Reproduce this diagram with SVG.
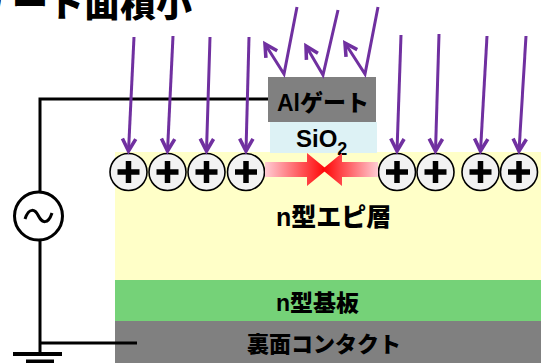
<svg xmlns="http://www.w3.org/2000/svg" width="541" height="363" viewBox="0 0 541 363">
  <style>
    .lbl { font-family: "Liberation Sans", "Noto Sans CJK JP", sans-serif; font-weight: bold; fill: #000; }
    .heavy { font-weight: 900; }
    .wire { stroke: #000; stroke-width: 3; fill: none; }
    .ray { stroke: #7030A0; stroke-width: 3; fill: none; marker-end: url(#head); }
    .ion circle { fill: #F2F2F2; stroke: #000; stroke-width: 1.6; }
    .ion path { stroke: #000; stroke-width: 5.5; fill: none; }
  </style>
  <defs>
    <marker id="head" markerUnits="userSpaceOnUse" markerWidth="20" markerHeight="20" viewBox="-14 -8 18 16" refX="0" refY="0" orient="auto">
      <path d="M-11,-6 L0,0 L-11,6" stroke="#7030A0" stroke-width="3.2" fill="none" stroke-linejoin="miter"/>
    </marker>
    <linearGradient id="fadeR" x1="0" y1="0" x2="1" y2="0">
      <stop offset="0" stop-color="#FFCCD4"/>
      <stop offset="1" stop-color="#FF0000"/>
    </linearGradient>
    <linearGradient id="fadeL" x1="1" y1="0" x2="0" y2="0">
      <stop offset="0" stop-color="#FFCCD4"/>
      <stop offset="1" stop-color="#FF0000"/>
    </linearGradient>
    <g id="plus" class="ion">
      <circle r="18.5"/>
      <path d="M-11,0 H11 M0,-11 V11"/>
    </g>
  </defs>

  <!-- heading (runs off the top-left edge) -->
  <text class="lbl heavy" x="192" y="17" font-size="36" text-anchor="end" font-family="Noto Sans CJK JP, sans-serif">ゲート面積小</text>

  <!-- semiconductor layers -->
  <g id="epi">
    <rect x="115" y="152" width="426" height="128" fill="#FFFFC8"/>
    <text class="lbl heavy" x="276" y="226" font-size="25">n型エピ層</text>
  </g>
  <g id="substrate">
    <rect x="115" y="280" width="426" height="41" fill="#75D278"/>
    <text class="lbl heavy" x="276" y="311" font-size="23">n型基板</text>
  </g>
  <g id="backContact">
    <rect x="115" y="321" width="426" height="42" fill="#808080"/>
    <text class="lbl heavy" x="247" y="352" font-size="22">裏面コンタクト</text>
  </g>

  <!-- gate stack -->
  <g id="oxide">
    <rect x="270" y="122" width="107" height="31" fill="#DDF2F5"/>
    <text class="lbl" x="296" y="147" font-size="24">SiO<tspan font-size="18" dy="8">2</tspan></text>
  </g>
  <g id="gate">
    <rect x="268" y="77" width="108" height="45" fill="#808080"/>
    <text class="lbl heavy" x="323" y="111" font-size="23" text-anchor="middle">Alゲート</text>
  </g>

  <!-- positive charges -->
  <g id="charges">
    <use href="#plus" x="128.5" y="172"/>
    <use href="#plus" x="167.5" y="172"/>
    <use href="#plus" x="206.5" y="172"/>
    <use href="#plus" x="246" y="172"/>
    <use href="#plus" x="397" y="172"/>
    <use href="#plus" x="435.5" y="172"/>
    <use href="#plus" x="480.5" y="172"/>
    <use href="#plus" x="519" y="172"/>
  </g>

  <!-- opposing field arrows under the gate -->
  <g id="field">
    <path d="M265,162 H307 V153 L327,169.5 L307,186 V177 H265 Z" fill="url(#fadeR)"/>
    <path d="M378,162 H342 V153 L322,169.5 L342,186 V177 H378 Z" fill="url(#fadeL)"/>
  </g>

  <!-- circuit -->
  <g id="source">
    <circle cx="38.5" cy="216" r="24" fill="#fff" stroke="#000" stroke-width="3"/>
    <path d="M25,219 C29,207 35,209 38.5,216 C42,223 48,225 52,213" class="wire"/>
  </g>
  <g id="ground">
    <path d="M13,354 H62 M26,361.5 H54" stroke="#000" stroke-width="4"/>
  </g>
  <g id="connectors">
    <path class="wire" d="M268,99 H40 V192"/>
    <path class="wire" d="M40,240 V354"/>
    <path class="wire" d="M40,343 H137"/>
    <!-- incident light -->
    <path class="ray" d="M134,37 L128.5,151"/>
    <path class="ray" d="M173,36 L167.5,151"/>
    <path class="ray" d="M210,37 L206.5,151"/>
    <path class="ray" d="M249,37 L246,151"/>
    <path class="ray" d="M401,35 L397,151"/>
    <path class="ray" d="M439,34 L435.5,151"/>
    <path class="ray" d="M487,36 L480.5,151"/>
    <path class="ray" d="M526,36 L519,151"/>
    <!-- light reflected by the gate -->
    <path class="ray" d="M297,7 L284,74 L265,44"/>
    <path class="ray" d="M338,10 L323,75 L306,46"/>
    <path class="ray" d="M378,7 L365,74 L345,43"/>
  </g>
</svg>
